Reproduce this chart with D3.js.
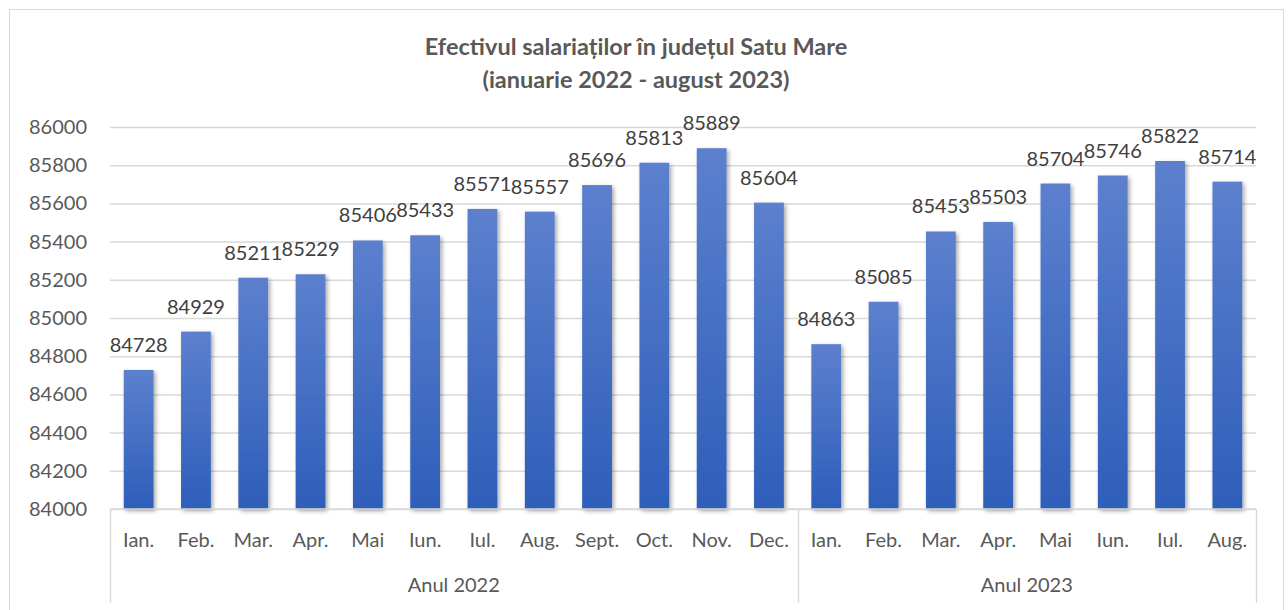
<!DOCTYPE html>
<html>
<head>
<meta charset="utf-8">
<script src="https://cdn.jsdelivr.net/npm/d3@7"></script>
<style>
  body { margin: 0; background: #fff; }
  text { font-family: Lato, "Open Sans", sans-serif; }
</style>
</head>
<body>
<script>
const width = 1288, height = 610;

// data
const months = ["Ian.", "Feb.", "Mar.", "Apr.", "Mai", "Iun.", "Iul.", "Aug.", "Sept.", "Oct.", "Nov.", "Dec.",
                "Ian.", "Feb.", "Mar.", "Apr.", "Mai", "Iun.", "Iul.", "Aug."];
const years = ["Anul 2022", "Anul 2023"];
const monthsPerYear = [12, 8];
const values = [84728, 84929, 85211, 85229, 85406, 85433, 85571, 85557, 85696, 85813, 85889, 85604,
                84863, 85085, 85453, 85503, 85704, 85746, 85822, 85714];
const yTicks = [84000, 84200, 84400, 84600, 84800, 85000, 85200, 85400, 85600, 85800, 86000];

const margin = { left: 110, right: 32, top: 127, bottom: 101 };
const plotBottom = height - margin.bottom; // 509

const svg = d3.select("body").append("svg")
  .attr("width", width)
  .attr("height", height);

// outer chart border
svg.append("rect")
  .attr("x", 9.5).attr("y", 9.5)
  .attr("width", 1274).attr("height", 610)
  .attr("fill", "#fff")
  .attr("stroke", "#d9d9d9");

const defs = svg.append("defs");
const grad = defs.append("linearGradient")
  .attr("id", "barGrad")
  .attr("x1", 0).attr("y1", 0).attr("x2", 0).attr("y2", 1);
grad.append("stop").attr("offset", "0%").attr("stop-color", "#5c80ce");
grad.append("stop").attr("offset", "100%").attr("stop-color", "#2e5eb9");

const shadow = defs.append("filter")
  .attr("id", "shadow")
  .attr("x", "-30%").attr("y", "-10%")
  .attr("width", "160%").attr("height", "130%");
shadow.append("feDropShadow")
  .attr("dx", 2).attr("dy", 2)
  .attr("stdDeviation", 2)
  .attr("flood-color", "#000")
  .attr("flood-opacity", 0.35);

const x = d3.scaleBand()
  .domain(d3.range(values.length))
  .range([margin.left, width - margin.right])
  .paddingInner(0.48)
  .paddingOuter(0.24);

const y = d3.scaleLinear()
  .domain([84000, 86000])
  .range([plotBottom, margin.top]);

// title
const title = svg.append("text")
  .attr("text-anchor", "middle")
  .attr("font-weight", "bold")
  .attr("font-size", 23.5)
  .attr("fill", "#595959");
title.append("tspan").attr("x", 636).attr("y", 55).text("Efectivul salariaților în județul Satu Mare");
title.append("tspan").attr("x", 636).attr("y", 88).text("(ianuarie 2022 - august 2023)");

// gridlines + y labels
const yAxis = svg.append("g")
  .attr("transform", `translate(${margin.left},0)`)
  .call(d3.axisLeft(y).tickValues(yTicks).tickSize(-(width - margin.left - margin.right)).tickFormat(d3.format("d")));
yAxis.select(".domain").remove();
yAxis.selectAll(".tick line").attr("stroke", "#d9d9d9").attr("stroke-width", 1.5);
yAxis.selectAll(".tick text")
  .attr("x", -23)
  .attr("font-size", 20)
  .attr("fill", "#595959");

// bars
svg.append("g").selectAll("rect")
  .data(values)
  .join("rect")
    .attr("x", (d, i) => x(i))
    .attr("y", d => y(d))
    .attr("width", x.bandwidth())
    .attr("height", d => plotBottom - y(d))
    .attr("fill", "url(#barGrad)")
    .attr("filter", "url(#shadow)");

// data labels
svg.append("g").selectAll("text")
  .data(values)
  .join("text")
    .attr("x", (d, i) => x(i) + x.bandwidth() / 2)
    .attr("y", d => y(d) - 18)
    .attr("text-anchor", "middle")
    .attr("font-size", 20)
    .attr("fill", "#404040")
    .text(d => d);

// category axis (two levels)
const axisColor = "#d9d9d9";
const axisG = svg.append("g");
axisG.append("line")
  .attr("x1", margin.left).attr("x2", width - margin.right)
  .attr("y1", plotBottom).attr("y2", plotBottom)
  .attr("stroke", axisColor).attr("stroke-width", 1.5);

const step = x.step();
let start = 0;
const bounds = [0];
monthsPerYear.forEach(n => { start += n; bounds.push(start); });

// x position of a group boundary
const edge = b => b === 0 ? margin.left
  : (b === values.length ? width - margin.right : x(b) - x.paddingInner() * step / 2);

bounds.forEach(b => {
  const bx = Math.round(edge(b)) + 0.5;
  axisG.append("line")
    .attr("x1", bx).attr("x2", bx)
    .attr("y1", plotBottom).attr("y2", 603)
    .attr("stroke", axisColor).attr("stroke-width", 1.5);
});

axisG.selectAll("text.month")
  .data(months)
  .join("text")
    .attr("class", "month")
    .attr("x", (d, i) => x(i) + x.bandwidth() / 2)
    .attr("y", 547)
    .attr("text-anchor", "middle")
    .attr("font-size", 20)
    .attr("fill", "#595959")
    .text(d => d);

axisG.selectAll("text.year")
  .data(years)
  .join("text")
    .attr("class", "year")
    .attr("x", (d, i) => (edge(bounds[i]) + edge(bounds[i + 1])) / 2)
    .attr("y", 592)
    .attr("text-anchor", "middle")
    .attr("font-size", 20)
    .attr("fill", "#595959")
    .text(d => d);
</script>
</body>
</html>
